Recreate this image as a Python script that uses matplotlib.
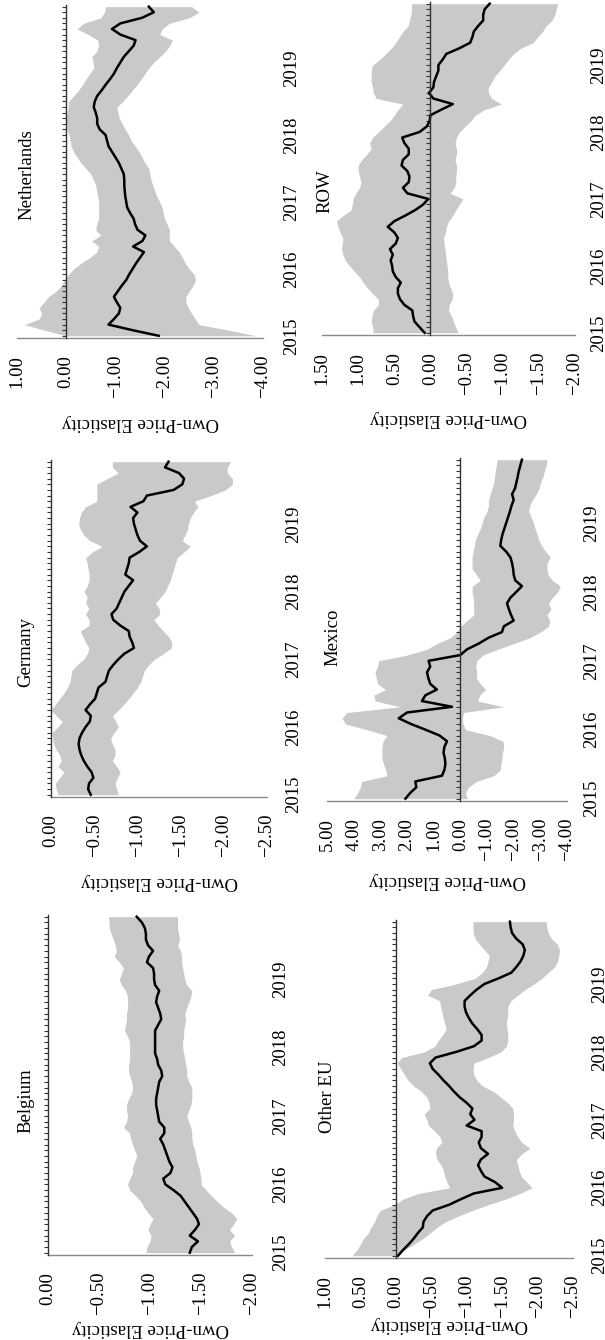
import matplotlib
matplotlib.use('Agg')
import matplotlib.pyplot as plt
import numpy as np

plt.rcParams['font.family'] = ['Liberation Serif', 'DejaVu Serif']
plt.rcParams['axes.unicode_minus'] = True

# ---------------- data (monthly, Jan 2015 .. Dec 2019) ----------------
months = np.arange(60)
year_labels = ['2015', '2016', '2017', '2018', '2019']
year_pos = [0, 12, 24, 36, 48]

belgium_est = [-1.39,-1.41,-1.47,-1.39,-1.44,-1.48,-1.46,-1.42,-1.38,-1.34,
 -1.30,-1.23,-1.15,-1.13,-1.20,-1.22,-1.19,-1.17,-1.15,-1.13,
 -1.10,-1.14,-1.14,-1.09,-1.08,-1.07,-1.06,-1.06,-1.07,-1.08,
 -1.09,-1.12,-1.11,-1.08,-1.07,-1.05,-1.05,-1.05,-1.05,-1.05,
 -1.08,-1.11,-1.10,-1.08,-1.06,-1.07,-1.09,-1.05,-1.04,-1.04,
 -1.03,-0.97,-0.99,-1.03,-0.98,-0.96,-0.96,-0.95,-0.92,-0.87]
belgium_hi = [-0.96,-0.97,-1.00,-1.01,-0.98,-1.00,-1.03,-0.98,-0.94,-0.91,
 -0.86,-0.80,-0.78,-0.80,-0.83,-0.83,-0.85,-0.87,-0.85,-0.83,
 -0.81,-0.80,-0.74,-0.77,-0.78,-0.77,-0.77,-0.79,-0.82,-0.83,
 -0.82,-0.80,-0.79,-0.79,-0.80,-0.80,-0.80,-0.80,-0.78,-0.75,
 -0.76,-0.77,-0.77,-0.78,-0.78,-0.78,-0.76,-0.72,-0.70,-0.72,
 -0.74,-0.70,-0.65,-0.67,-0.66,-0.64,-0.62,-0.60,-0.60,-0.59]
belgium_lo = [-1.83,-1.80,-1.78,-1.83,-1.78,-1.82,-1.85,-1.80,-1.72,-1.66,
 -1.60,-1.55,-1.50,-1.50,-1.49,-1.48,-1.46,-1.45,-1.44,-1.42,
 -1.41,-1.41,-1.40,-1.38,-1.36,-1.38,-1.40,-1.41,-1.41,-1.41,
 -1.38,-1.36,-1.36,-1.35,-1.34,-1.33,-1.32,-1.32,-1.33,-1.33,
 -1.34,-1.35,-1.34,-1.36,-1.38,-1.40,-1.41,-1.36,-1.34,-1.33,
 -1.32,-1.31,-1.31,-1.30,-1.27,-1.29,-1.28,-1.27,-1.27,-1.27]

germany_est = [-0.46,-0.43,-0.44,-0.49,-0.47,-0.42,-0.38,-0.35,-0.33,-0.32,
 -0.33,-0.36,-0.40,-0.45,-0.46,-0.40,-0.45,-0.51,-0.53,-0.55,
 -0.63,-0.65,-0.67,-0.72,-0.78,-0.85,-0.96,-0.94,-0.91,-0.90,
 -0.80,-0.72,-0.70,-0.76,-0.79,-0.82,-0.85,-0.90,-0.95,-0.86,
 -0.88,-0.90,-0.91,-1.02,-1.11,-1.03,-1.00,-0.98,-0.96,-0.95,
 -1.00,-0.92,-1.07,-1.11,-1.42,-1.52,-1.54,-1.48,-1.32,-1.36]
germany_hi = [-0.08,-0.06,-0.05,-0.10,-0.15,-0.08,-0.12,-0.10,-0.06,-0.03,
 -0.02,-0.01,-0.08,-0.13,-0.06,0.00,-0.05,-0.10,-0.15,-0.19,
 -0.22,-0.23,-0.24,-0.30,-0.38,-0.42,-0.44,-0.40,-0.37,-0.34,
 -0.44,-0.44,-0.40,-0.44,-0.40,-0.42,-0.38,-0.42,-0.44,-0.44,
 -0.43,-0.42,-0.40,-0.48,-0.59,-0.45,-0.38,-0.34,-0.32,-0.33,
 -0.35,-0.40,-0.53,-0.53,-0.53,-0.53,-0.65,-0.78,-0.71,-0.71]
germany_lo = [-0.78,-0.76,-0.74,-0.77,-0.80,-0.76,-0.71,-0.74,-0.74,-0.71,
 -0.69,-0.73,-0.78,-0.75,-0.71,-0.78,-0.84,-0.90,-0.95,-1.00,
 -1.04,-1.06,-1.08,-1.13,-1.20,-1.30,-1.39,-1.40,-1.36,-1.30,
 -1.24,-1.19,-1.26,-1.25,-1.21,-1.27,-1.32,-1.35,-1.38,-1.40,
 -1.42,-1.44,-1.46,-1.54,-1.61,-1.52,-1.55,-1.58,-1.59,-1.61,
 -1.65,-1.70,-1.66,-1.85,-2.02,-2.10,-2.10,-2.04,-2.04,-2.08]

netherlands_est = [-1.88,-1.35,-0.86,-0.97,-1.07,-1.10,-1.03,-0.97,-1.05,-1.13,
 -1.22,-1.28,-1.35,-1.42,-1.50,-1.58,-1.36,-1.55,-1.61,-1.45,
 -1.40,-1.37,-1.30,-1.24,-1.22,-1.20,-1.19,-1.18,-1.18,-1.17,
 -1.12,-1.07,-1.00,-0.93,-0.86,-0.83,-0.80,-0.68,-0.63,-0.63,
 -0.60,-0.56,-0.58,-0.63,-0.72,-0.80,-0.89,-0.97,-1.03,-1.10,
 -1.17,-1.27,-1.37,-1.41,-1.10,-0.93,-1.10,-1.54,-1.78,-1.68]
netherlands_hi = [0.00,0.45,0.85,0.55,0.50,0.55,0.45,0.36,0.20,0.10,
 0.04,-0.05,-0.15,-0.30,-0.48,-0.62,-0.66,-0.52,-0.70,-0.60,
 -0.62,-0.66,-0.66,-0.66,-0.66,-0.64,-0.62,-0.60,-0.55,-0.50,
 -0.40,-0.30,-0.22,-0.15,-0.10,-0.08,-0.06,-0.02,-0.01,0.00,
 -0.02,-0.04,-0.05,-0.15,-0.25,-0.33,-0.40,-0.48,-0.56,-0.55,
 -0.52,-0.62,-0.66,-0.64,-0.45,-0.22,-0.35,-0.70,-0.78,-0.80]
netherlands_lo = [-3.86,-3.30,-2.70,-2.62,-2.55,-2.48,-2.43,-2.43,-2.50,-2.58,
 -2.63,-2.60,-2.50,-2.42,-2.36,-2.30,-2.20,-2.10,-2.09,-2.10,
 -2.05,-2.00,-1.97,-1.95,-1.90,-1.84,-1.80,-1.76,-1.72,-1.70,
 -1.68,-1.60,-1.54,-1.48,-1.40,-1.32,-1.27,-1.20,-1.14,-1.08,
 -1.05,-1.03,-1.15,-1.25,-1.34,-1.44,-1.52,-1.60,-1.68,-1.78,
 -1.90,-2.02,-2.10,-2.16,-1.90,-1.95,-2.09,-2.50,-2.70,-2.55]

other_eu_est = [-0.03,-0.10,-0.18,-0.25,-0.31,-0.38,-0.39,-0.44,-0.52,-0.75,
 -0.92,-1.10,-1.50,-1.40,-1.25,-1.20,-1.16,-1.20,-1.30,-1.20,
 -1.17,-1.21,-1.21,-1.00,-1.11,-1.05,-1.08,-1.00,-0.90,-0.82,
 -0.75,-0.67,-0.60,-0.52,-0.48,-0.56,-0.85,-1.10,-1.21,-1.21,
 -1.15,-1.08,-1.03,-0.99,-0.97,-0.97,-1.05,-1.14,-1.25,-1.45,
 -1.63,-1.70,-1.76,-1.80,-1.82,-1.79,-1.70,-1.64,-1.62,-1.61]
other_eu_hi = [0.62,0.55,0.50,0.46,0.39,0.35,0.30,0.27,0.22,0.02,
 -0.10,-0.32,-0.76,-0.72,-0.69,-0.67,-0.64,-0.58,-0.56,-0.57,
 -0.65,-0.62,-0.55,-0.46,-0.44,-0.40,-0.48,-0.47,-0.44,-0.36,
 -0.25,-0.17,-0.12,-0.07,-0.02,-0.08,-0.40,-0.55,-0.60,-0.66,
 -0.71,-0.69,-0.67,-0.65,-0.63,-0.62,-0.45,-0.50,-0.85,-1.12,
 -1.22,-1.28,-1.30,-1.32,-1.25,-1.18,-1.12,-1.09,-1.09,-1.09]
other_eu_lo = [-0.01,-0.12,-0.25,-0.38,-0.48,-0.58,-0.70,-0.88,-1.08,-1.30,
 -1.55,-1.75,-1.92,-1.85,-1.77,-1.74,-1.72,-1.70,-1.78,-1.89,
 -1.78,-1.72,-1.68,-1.65,-1.66,-1.66,-1.65,-1.58,-1.48,-1.38,
 -1.22,-1.14,-1.10,-1.09,-1.10,-1.30,-1.48,-1.56,-1.58,-1.58,
 -1.57,-1.56,-1.57,-1.58,-1.58,-1.62,-1.72,-1.82,-1.95,-2.06,
 -2.15,-2.24,-2.28,-2.30,-2.31,-2.28,-2.20,-2.15,-2.13,-2.12]

mexico_est = [2.06,1.88,1.65,1.69,0.69,0.60,0.56,0.58,0.63,0.60,
 0.50,0.78,1.30,1.85,2.31,2.00,0.31,1.44,1.31,0.88,
 1.13,1.20,1.25,1.13,1.19,0.00,-0.25,-0.69,-1.05,-1.56,
 -1.63,-2.00,-1.90,-1.82,-1.75,-1.88,-2.10,-2.31,-2.06,-2.00,
 -1.98,-1.94,-1.88,-1.72,-1.50,-1.53,-1.58,-1.65,-1.72,-1.79,
 -1.86,-1.92,-2.00,-1.94,-2.05,-2.10,-2.15,-2.19,-2.25,-2.31]
mexico_hi = [4.00,3.85,3.75,3.70,2.75,2.80,2.88,2.94,2.94,2.94,
 2.90,2.75,3.50,4.30,4.44,4.25,2.25,3.19,3.25,2.81,
 3.10,3.15,3.20,3.10,3.06,2.00,1.25,0.88,0.38,0.13,
 0.00,-0.25,-0.50,-0.50,-0.50,-0.48,-0.44,-0.45,-0.75,-0.60,
 -0.44,-0.44,-0.44,-0.48,-0.52,-0.56,-0.65,-0.75,-0.82,-0.88,
 -1.00,-1.06,-1.06,-1.12,-1.19,-1.25,-1.28,-1.31,-1.35,-1.38]
mexico_lo = [-0.25,-0.20,-0.30,-0.60,-1.25,-1.50,-1.52,-1.56,-1.58,-1.63,
 -1.60,-1.10,-0.20,-0.10,-0.08,-0.12,-1.63,-0.65,-0.72,-0.95,
 -0.75,-0.60,-0.62,-0.58,-0.62,-0.85,-1.40,-2.00,-2.60,-3.00,
 -3.31,-3.35,-3.25,-3.40,-3.30,-3.45,-3.65,-3.75,-3.45,-3.28,
 -3.25,-3.25,-3.38,-3.20,-3.05,-2.95,-2.88,-2.80,-2.75,-2.65,
 -2.56,-2.60,-2.70,-2.85,-2.95,-3.00,-3.10,-3.15,-3.22,-3.25]

row_est = [0.08,0.15,0.22,0.24,0.25,0.36,0.42,0.45,0.45,0.41,
 0.48,0.52,0.53,0.55,0.52,0.56,0.48,0.45,0.50,0.59,
 0.50,0.35,0.21,0.10,0.03,0.32,0.38,0.30,0.29,0.32,
 0.40,0.38,0.30,0.30,0.36,0.39,0.15,0.05,0.01,0.00,
 -0.15,-0.31,-0.04,0.02,-0.04,-0.05,-0.08,-0.11,-0.11,-0.17,
 -0.22,-0.40,-0.55,-0.58,-0.60,-0.66,-0.73,-0.73,-0.75,-0.82]
row_hi = [0.79,0.80,0.82,0.81,0.79,0.72,0.72,0.80,0.87,0.93,
 0.98,1.05,1.12,1.18,1.21,1.23,1.22,1.21,1.25,1.28,
 1.30,1.21,1.10,1.08,1.07,1.03,0.98,0.96,0.98,1.00,
 1.00,0.95,0.88,0.82,0.84,0.80,0.72,0.64,0.56,0.50,
 0.45,0.38,0.75,0.79,0.80,0.82,0.82,0.82,0.80,0.70,
 0.62,0.54,0.48,0.43,0.38,0.31,0.29,0.27,0.26,0.26]
row_lo = [-0.38,-0.35,-0.32,-0.29,-0.25,-0.26,-0.30,-0.31,-0.28,-0.25,
 -0.24,-0.24,-0.23,-0.22,-0.21,-0.20,-0.19,-0.18,-0.21,-0.22,
 -0.25,-0.31,-0.35,-0.40,-0.45,-0.27,-0.33,-0.35,-0.35,-0.36,
 -0.36,-0.34,-0.36,-0.36,-0.34,-0.36,-0.40,-0.48,-0.56,-0.62,
 -0.75,-0.98,-0.85,-0.80,-0.80,-0.85,-0.89,-0.96,-1.02,-1.08,
 -1.15,-1.25,-1.42,-1.48,-1.55,-1.60,-1.68,-1.72,-1.74,-1.76]

# ---------------- layout (portrait page, figure turned sideways) ----------------
W, H = 605, 1340
fig = plt.figure(figsize=(W / 100, H / 100), dpi=100)
fig.patch.set_facecolor('white')

FS = 13.5
BAND = '#c9c9c9'
AXC = '#333333'
SPC = '#8a8a8a'

# box = (px of max value, px of min value, top px, axis-line px)
panels = [
    dict(name='Netherlands', est=netherlands_est, lo=netherlands_lo, hi=netherlands_hi,
         vmax=1.0, vmin=-4.0, step=1.0, box=(17, 263, 5, 338),
         title=(27, 175), ylab=422, ypad=11.5),
    dict(name='Germany', est=germany_est, lo=germany_lo, hi=germany_hi,
         vmax=0.0, vmin=-2.5, step=0.5, box=(51, 267, 460, 797),
         title=(26, 652), ylab=882, ypad=10.0),
    dict(name='Belgium', est=belgium_est, lo=belgium_lo, hi=belgium_hi,
         vmax=0.0, vmin=-2.0, step=0.5, box=(48, 252, 915, 1255),
         title=(26, 1101), ylab=1328, ypad=11.5),
    dict(name='ROW', est=row_est, lo=row_lo, hi=row_hi,
         vmax=1.5, vmin=-2.0, step=0.5, box=(322, 575, 2, 335),
         title=(325, 191), ylab=418, ypad=8.0),
    dict(name='Mexico', est=mexico_est, lo=mexico_lo, hi=mexico_hi,
         vmax=5.0, vmin=-4.0, step=1.0, box=(327, 567, 458, 801),
         title=(333, 637), ylab=880, ypad=8.5),
    dict(name='Other EU', est=other_eu_est, lo=other_eu_lo, hi=other_eu_hi,
         vmax=1.0, vmin=-2.5, step=0.5, box=(325, 573, 920, 1258),
         title=(327, 1097), ylab=1325, ypad=9.5),
]


def fmt(v):
    s = f"{abs(v):.2f}"
    return ('\u2212' + s) if v < -1e-9 else s


for p in panels:
    xl, xr, yt, yb = p['box']
    ax = fig.add_axes([xl / W, 1 - yb / H, (xr - xl) / W, (yb - yt) / H])
    ax.set_facecolor('none')
    ax.set_xlim(p['vmax'], p['vmin'])
    ax.set_ylim(-0.4, 59.3)

    ax.fill_betweenx(months, p['lo'], p['hi'], color=BAND, lw=0, zorder=1)
    ax.plot(p['est'], months, color='black', lw=1.8, zorder=3,
            solid_joinstyle='round')

    for s in ('top', 'right'):
        ax.spines[s].set_visible(False)
    ax.spines['bottom'].set_color(SPC)
    ax.spines['bottom'].set_linewidth(1.0)
    ax.spines['left'].set_position(('data', 0))
    ax.spines['left'].set_color(AXC)
    ax.spines['left'].set_linewidth(1.0)
    ax.spines['left'].set_zorder(4)

    n = int(round((p['vmax'] - p['vmin']) / p['step']))
    ticks = [p['vmax'] - i * p['step'] for i in range(n + 1)]
    ax.set_xticks(ticks)
    ax.set_xticklabels([fmt(v) for v in ticks], rotation=90, fontsize=FS)
    ax.tick_params(axis='x', length=0, pad=12)

    ax.set_yticks(year_pos)
    ax.set_yticks(months, minor=True)
    ax.set_yticklabels(year_labels, fontsize=FS)
    ax.tick_params(axis='y', which='both', left=True, right=False,
                   labelleft=False, labelright=True, direction='out',
                   length=3.2, width=0.8, color=AXC)
    ax.tick_params(axis='y', which='major', pad=p['ypad'])
    for tk in ax.yaxis.get_major_ticks():
        tk.label2.set_rotation(90)
        tk.label2.set_va('center')
        tk.label2.set_ha('left')

    ax.set_xlabel('Own-Price Elasticity', fontsize=FS, rotation=180)
    ax.xaxis.label.set_va('center')
    ax.xaxis.set_label_coords(0.5, -(p['ylab'] - yb) / (yb - yt))

    tx, ty = p['title']
    fig.text(tx / W, 1 - ty / H, p['name'], rotation=90, ha='center',
             va='center', fontsize=FS)

fig.savefig('out.png', dpi=100, facecolor='white')
